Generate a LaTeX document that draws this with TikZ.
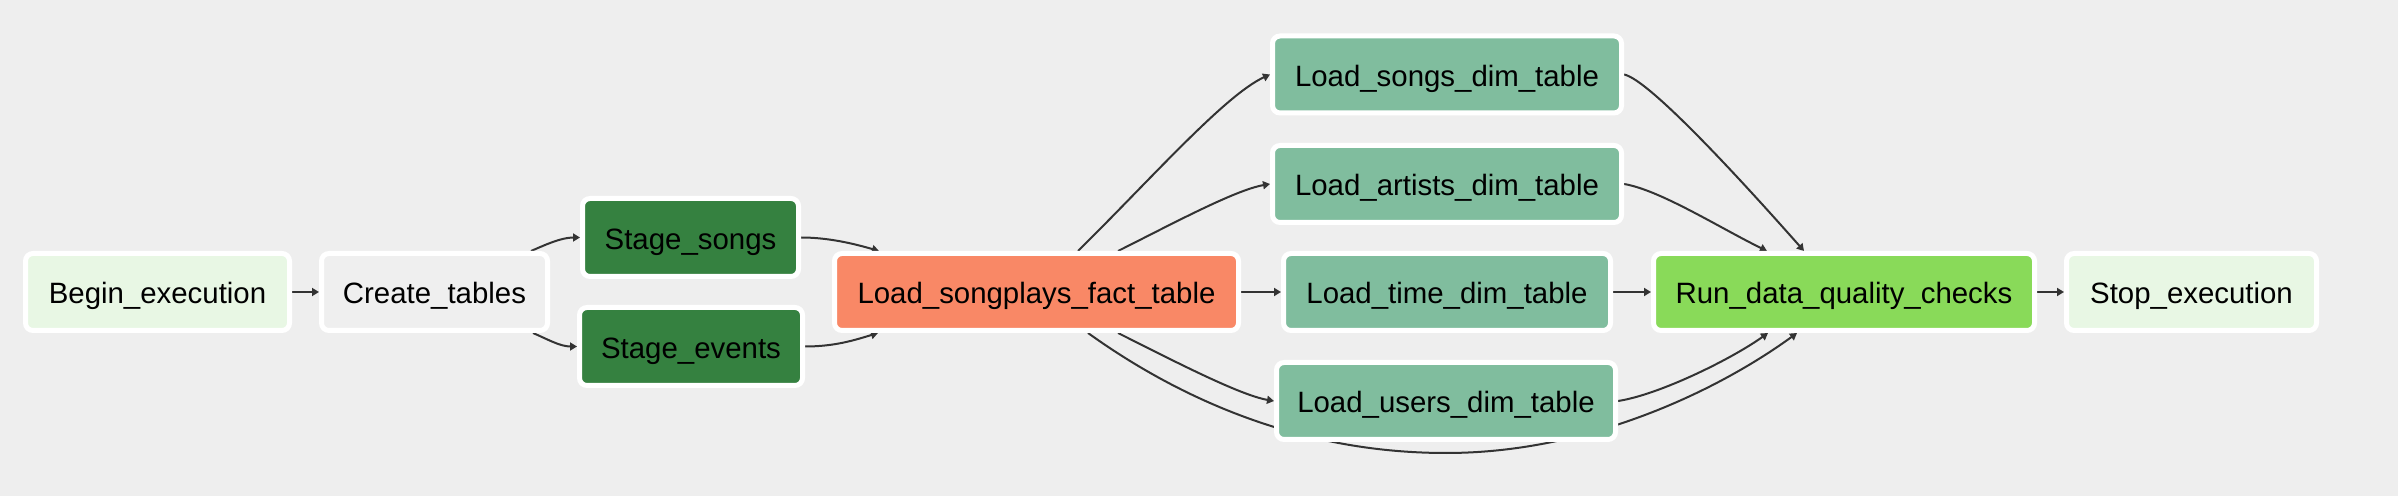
\documentclass[tikz,border=0pt]{standalone}
\usepackage{fontspec}
\setmainfont{Liberation Sans}
\usetikzlibrary{arrows.meta}
\pgfdeclarelayer{bglayer}
\pgfdeclarelayer{edgelayer}
\pgfsetlayers{bglayer,edgelayer,main}
\definecolor{bgc}{HTML}{EEEEEE}
\definecolor{dummyc}{HTML}{E8F7E4}
\definecolor{createc}{HTML}{EFEFEF}
\definecolor{stagec}{HTML}{358140}
\definecolor{factc}{HTML}{F98866}
\definecolor{dimc}{HTML}{80BD9E}
\definecolor{checkc}{HTML}{89DA59}
\definecolor{edgec}{HTML}{333333}
\begin{document}
\begin{tikzpicture}[x=0.5pt,y=-0.5pt,
  task/.style={draw=white, line width=2.5pt, rounded corners=3.75pt,
    minimum height=38.5pt, inner sep=0pt, text=black,
    text height=12pt, text depth=0pt,
    font=\fontsize{14.7pt}{17pt}\selectfont},
  conn/.style={draw=edgec, line width=1pt,
    -{Triangle[length=3.5pt,width=4pt]}}]
\begin{pgfonlayer}{bglayer}
  \fill[bgc] (0,0) rectangle (2398,496);
\end{pgfonlayer}
\useasboundingbox (0,0) rectangle (2398,496);

\node[task, fill=dummyc, minimum width=132pt] (begin) at (157.5,292) {Begin\_execution};
\node[task, fill=createc, minimum width=113pt] (create) at (434.5,292) {Create\_tables};
\node[task, fill=stagec, minimum width=108pt, minimum height=39pt] (ss) at (690.5,237.5) {Stage\_songs};
\node[task, fill=stagec, minimum width=111.5pt, minimum height=39pt] (se) at (691,346.5) {Stage\_events};
\node[task, fill=factc, minimum width=202pt] (sp) at (1036.5,292) {Load\_songplays\_fact\_table};
\node[task, fill=dimc, minimum width=174.5pt] (sd) at (1447,74.5) {Load\_songs\_dim\_table};
\node[task, fill=dimc, minimum width=174.5pt] (ad) at (1447,184) {Load\_artists\_dim\_table};
\node[task, fill=dimc, minimum width=163.5pt] (td) at (1447,292) {Load\_time\_dim\_table};
\node[task, fill=dimc, minimum width=169.5pt] (ud) at (1446,401) {Load\_users\_dim\_table};
\node[task, fill=checkc, minimum width=190.5pt] (rq) at (1844,292) {Run\_data\_quality\_checks};
\node[task, fill=dummyc, minimum width=125pt] (stop) at (2191.5,292) {Stop\_execution};

\coordinate (dip) at ([shift={(0,11)}]ud.south);

\begin{pgfonlayer}{edgelayer}
  \draw[conn] (begin.east) -- (create.west);
  \draw[conn] ([shift={(96.5,0)}]create.north) .. controls +(14,-6) and +(-19,0) .. (ss.west);
  \draw[conn] ([shift={(98.5,0)}]create.south) .. controls +(14,6) and +(-17,0) .. (se.west);
  \draw[conn] (ss.east) .. controls +(28,0) and +(-24,-7) .. ([shift={(-157.5,0)}]sp.north);
  \draw[conn] (se.east) .. controls +(30,0) and +(-23,7) .. ([shift={(-158.5,0)}]sp.south);
  \draw[conn] ([shift={(41.5,0)}]sp.north) .. controls +(72,-71) and +(-45,20.5) .. (sd.west);
  \draw[conn] ([shift={(81.5,0)}]sp.north) .. controls +(52,-26) and +(-35,6) .. (ad.west);
  \draw[conn] (sp.east) -- (td.west);
  \draw[conn] ([shift={(81.5,0)}]sp.south) .. controls +(52,26) and +(-35,-6) .. (ud.west);
  \draw[conn] ([shift={(51.5,0)}]sp.south) .. controls +(92,66) and +(-146,0) .. (dip)
     .. controls +(145,0) and +(-77,56) .. ([shift={(-47,0)}]rq.south);
  \draw[conn] (sd.east) .. controls +(26,5) and +(-54,-61) .. ([shift={(-40,0)}]rq.north);
  \draw[conn] (ad.east) .. controls +(36,6) and +(-47,-23) .. ([shift={(-77,0)}]rq.north);
  \draw[conn] (td.east) -- (rq.west);
  \draw[conn] (ud.east) .. controls +(40,-6) and +(-38,27) .. ([shift={(-76,0)}]rq.south);
  \draw[conn] (rq.east) -- (stop.west);
\end{pgfonlayer}
\end{tikzpicture}
\end{document}
